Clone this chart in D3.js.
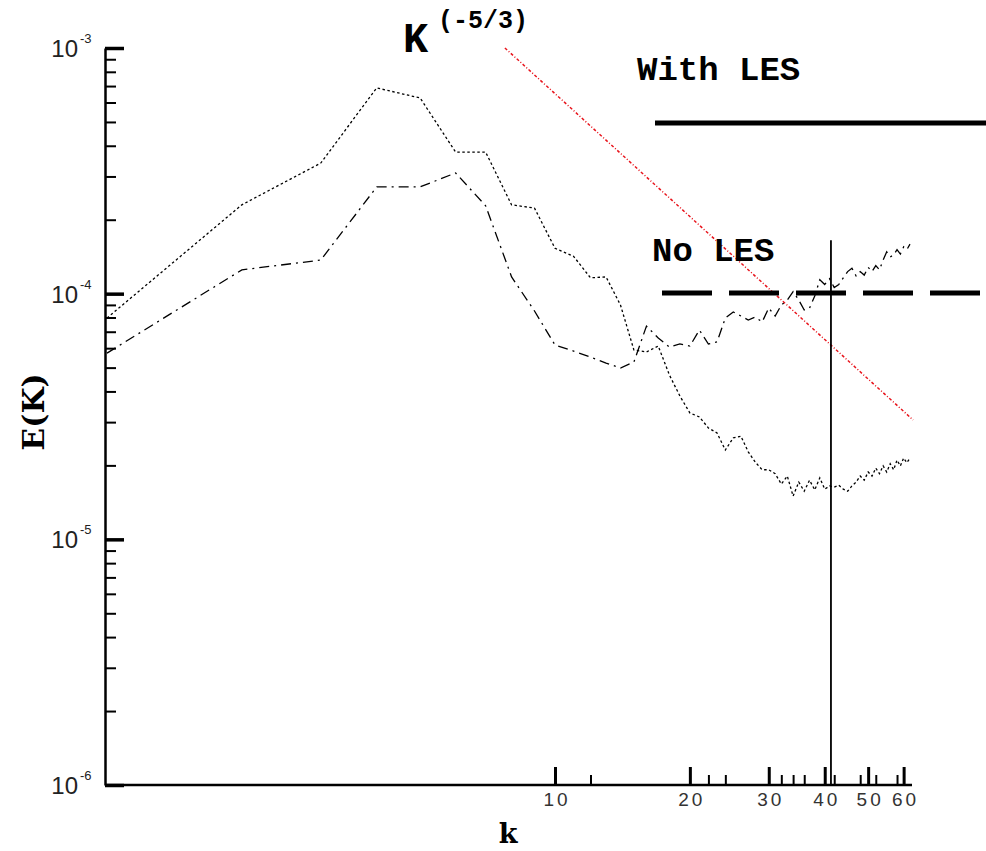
<!DOCTYPE html>
<html><head><meta charset="utf-8">
<script src="https://cdn.jsdelivr.net/npm/d3@7"></script>
<style>html,body{margin:0;background:#fff}svg{display:block}</style>
</head><body><svg id="chart" width="986" height="851"></svg>
<script>
// Energy spectrum E(k) of the resolved velocity field, with and without the LES model
const wavenumbers = [1,2,3,4,5,6,7,8,9,10,11,12,13,14,15,16,17,18,19,20,21,22,23,24,25,26,27,28,29,30,
  31,32,33,34,35,36,37,38,39,40,41,42,43,44,45,46,47,48,49,50,51,52,53,54,55,56,57,58,59,60,61,62];
const withLES = [7.96e-5,2.30e-4,3.40e-4,6.88e-4,6.26e-4,3.77e-4,3.77e-4,2.30e-4,2.23e-4,1.53e-4,
  1.42e-4,1.16e-4,1.17e-4,8.99e-5,5.90e-5,5.79e-5,6.12e-5,4.67e-5,3.83e-5,3.27e-5,
  3.15e-5,2.84e-5,2.71e-5,2.31e-5,2.59e-5,2.63e-5,2.27e-5,2.06e-5,1.92e-5,1.92e-5,
  1.85e-5,1.68e-5,1.81e-5,1.50e-5,1.71e-5,1.57e-5,1.74e-5,1.59e-5,1.78e-5,1.60e-5,
  1.65e-5,1.63e-5,1.66e-5,1.60e-5,1.57e-5,1.65e-5,1.71e-5,1.81e-5,1.74e-5,1.88e-5,
  1.81e-5,1.95e-5,1.85e-5,1.99e-5,1.88e-5,2.03e-5,1.92e-5,2.10e-5,1.99e-5,2.14e-5,2.05e-5,2.14e-5];
const noLES = [5.73e-5,1.25e-4,1.37e-4,2.72e-4,2.72e-4,3.10e-4,2.28e-4,1.17e-4,8.50e-5,6.18e-5,
  5.84e-5,5.52e-5,5.22e-5,4.98e-5,5.27e-5,7.38e-5,6.60e-5,6.07e-5,6.24e-5,6.12e-5,
  7.11e-5,6.24e-5,6.36e-5,7.96e-5,8.42e-5,8.11e-5,7.81e-5,8.03e-5,7.67e-5,8.74e-5,
  8.11e-5,8.99e-5,9.42e-5,1.02e-4,9.42e-5,8.58e-5,8.74e-5,9.78e-5,1.14e-4,1.09e-4,
  1.15e-4,1.06e-4,1.09e-4,1.16e-4,1.23e-4,1.27e-4,1.18e-4,1.23e-4,1.19e-4,1.28e-4,
  1.23e-4,1.30e-4,1.25e-4,1.37e-4,1.48e-4,1.41e-4,1.44e-4,1.51e-4,1.45e-4,1.55e-4,1.51e-4,1.59e-4];

// Kolmogorov k^(-5/3) reference line (end points)
const kolmogorovK = [7.73, 63];
const kolmogorovE = [1.0e-3, 3.06e-5];

// Grid cutoff wavenumber
const cutoffK = 41.3;
const cutoffE = [1e-6, 1.65e-4];

// Axis ticks
const xMajorTicks = [10, 20, 30, 40, 50, 60];
const xMinorTicks = [12, 22, 24, 32, 34, 36, 42, 48, 52, 58];
const yMajorTicks = [1e-6, 1e-5, 1e-4, 1e-3];
const yTickExponents = ["-6", "-5", "-4", "-3"];
const yMinorMantissas = [2, 3, 4, 5, 6, 7, 8, 9];

const svg = d3.select("#chart");
const x = d3.scaleLog().domain([1, 62]).range([107, 910]);
const y = d3.scaleLog().domain([1e-6, 1e-3]).range([785, 48]);

const yMinorTicks = [];
yMajorTicks.slice(0, 3).forEach(d => yMinorMantissas.forEach(m => yMinorTicks.push(d * m)));

// Y axis: minor ticks, then major ticks
const yMinor = svg.append("g").attr("transform", "translate(105,0)")
  .call(d3.axisLeft(y).tickValues(yMinorTicks).tickSize(-11).tickSizeOuter(0).tickFormat(""));
yMinor.selectAll(".tick line").attr("stroke", "#000").attr("stroke-width", 2);
yMinor.select(".domain").attr("stroke", "#000").attr("stroke-width", 2.5);

const yMajor = svg.append("g").attr("transform", "translate(105,0)")
  .call(d3.axisLeft(y).tickValues(yMajorTicks).tickSize(-19).tickSizeOuter(0).tickFormat(""));
yMajor.selectAll(".tick line").attr("stroke", "#000").attr("stroke-width", 3.5);
yMajor.select(".domain").remove();
yMajor.selectAll(".tick text").remove();

// Power-of-ten labels: base and raised exponent as separate texts
const yLabels = svg.append("g").attr("font-family", "Liberation Sans, Arial, sans-serif").attr("fill", "#222");
yLabels.selectAll("text.base").data(yMajorTicks).join("text").attr("class", "base")
  .attr("x", 78).attr("y", d => y(d) + 9).attr("text-anchor", "end").attr("font-size", 24).text("10");
yLabels.selectAll("text.exp").data(yMajorTicks).join("text").attr("class", "exp")
  .attr("x", 80).attr("y", d => y(d) - 5).attr("font-size", 13).text((d, i) => yTickExponents[i]);

// X axis: ticks point up into the plot
const xMinor = svg.append("g").attr("transform", "translate(0,785)")
  .call(d3.axisBottom(x).tickValues(xMinorTicks).tickSize(-10).tickSizeOuter(0).tickFormat(""));
xMinor.selectAll(".tick line").attr("stroke", "#000").attr("stroke-width", 2);
xMinor.select(".domain").attr("stroke", "#000").attr("stroke-width", 2.5).attr("d", "M105,0H912");

const xMajor = svg.append("g").attr("transform", "translate(0,785)")
  .call(d3.axisBottom(x).tickValues(xMajorTicks).tickSize(-18).tickSizeOuter(0).tickFormat(d3.format("d")));
xMajor.selectAll(".tick line").attr("stroke", "#000").attr("stroke-width", 3);
xMajor.select(".domain").remove();
xMajor.selectAll(".tick text")
  .attr("font-family", "Liberation Sans, Arial, sans-serif").attr("font-size", 19)
  .attr("fill", "#333").attr("letter-spacing", 3).attr("dx", 1.5).attr("y", 21).attr("dy", null);

// Axis titles
svg.append("text").attr("x", 508).attr("y", 843).attr("text-anchor", "middle")
  .attr("font-family", "DejaVu Serif, serif").attr("font-weight", "bold").attr("font-size", 27).text("k");
svg.append("text").attr("transform", "translate(44,412) rotate(-90)").attr("text-anchor", "middle")
  .attr("font-family", "DejaVu Serif, serif").attr("font-weight", "bold").attr("font-size", 30).text("E(K)");

// Spectra
const line = d3.line().x(d => x(d[0])).y(d => y(d[1]));
svg.append("path").datum(d3.zip(wavenumbers, withLES)).attr("d", line)
  .attr("fill", "none").attr("stroke", "#000").attr("stroke-width", 1.3).attr("stroke-dasharray", "2.5,2.5");
svg.append("path").datum(d3.zip(wavenumbers, noLES)).attr("d", line)
  .attr("fill", "none").attr("stroke", "#000").attr("stroke-width", 1.3).attr("stroke-dasharray", "10,5,2,5");

// k^(-5/3) slope
svg.append("path").datum(d3.zip(kolmogorovK, kolmogorovE)).attr("d", line)
  .attr("fill", "none").attr("stroke", "#e8141c").attr("stroke-width", 1.5).attr("stroke-dasharray", "3,2,1,2");

// Cutoff wavenumber
svg.append("path").datum(cutoffE.map(e => [cutoffK, e])).attr("d", line)
  .attr("fill", "none").attr("stroke", "#000").attr("stroke-width", 1.8);

// Slope annotation
const mono = "Liberation Mono, monospace";
svg.append("text").attr("x", 403).attr("y", 52).attr("font-family", mono).attr("font-weight", "bold")
  .attr("font-size", 42).text("K");
svg.append("text").attr("x", 438).attr("y", 28).attr("font-family", mono).attr("font-weight", "bold")
  .attr("font-size", 25).text("(-5/3)");

// Legend
svg.append("text").attr("x", 637).attr("y", 80).attr("font-family", mono).attr("font-weight", "bold")
  .attr("font-size", 34).text("With LES");
svg.append("line").attr("x1", 655).attr("x2", 990).attr("y1", 123).attr("y2", 123)
  .attr("stroke", "#000").attr("stroke-width", 5);
svg.append("text").attr("x", 652).attr("y", 261).attr("font-family", mono).attr("font-weight", "bold")
  .attr("font-size", 34).text("No LES");
svg.append("line").attr("x1", 662).attr("x2", 990).attr("y1", 293).attr("y2", 293)
  .attr("stroke", "#000").attr("stroke-width", 5).attr("stroke-dasharray", "50,17");
</script></body></html>
